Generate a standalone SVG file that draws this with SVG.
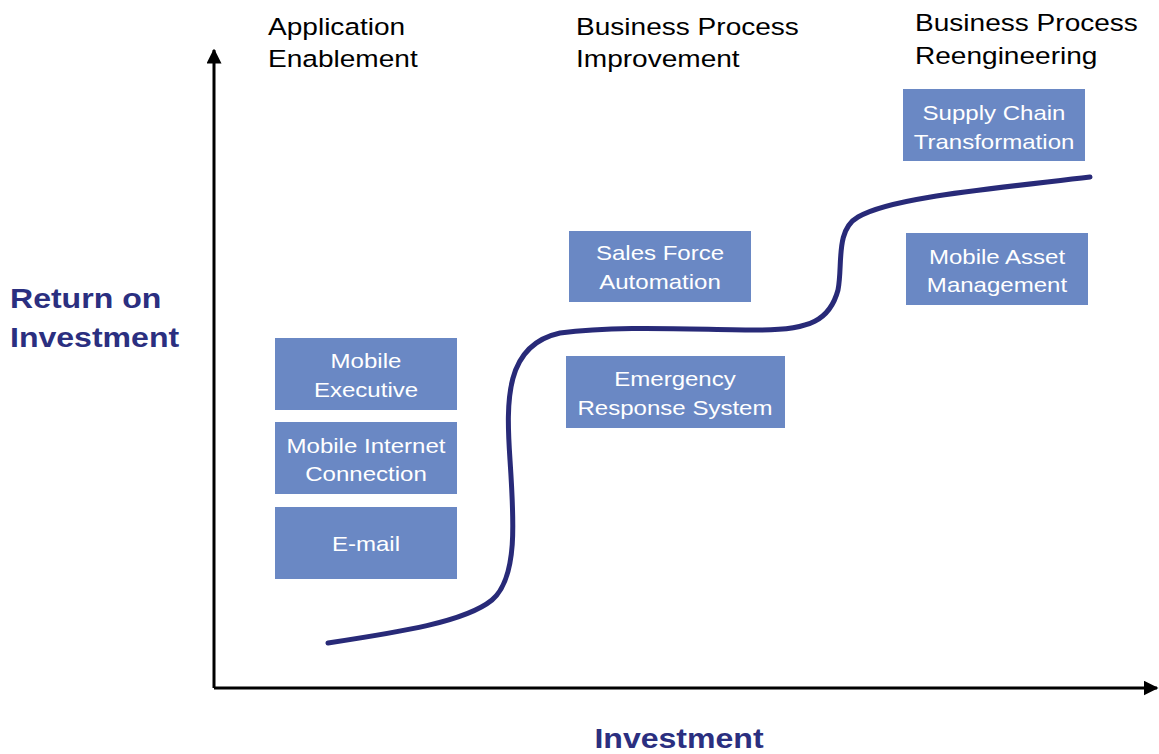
<svg xmlns="http://www.w3.org/2000/svg" width="1159" height="754" viewBox="0 0 1159 754">
  <defs>
    <marker id="arrow" viewBox="0 0 10 10" refX="9" refY="5" markerWidth="5" markerHeight="5" orient="auto" markerUnits="strokeWidth">
      <path d="M0,0 L10,5 L0,10 z" fill="#000"/>
    </marker>
    <style>
      .box { fill: #6a88c4; }
      .boxtext { font-family: "Liberation Sans", Arial, sans-serif; font-size: 21px; fill: #ffffff; text-anchor: middle; }
      .head { font-family: "Liberation Sans", Arial, sans-serif; font-size: 24.5px; fill: #000000; }
      .axislabel { font-family: "Liberation Sans", Arial, sans-serif; font-size: 28px; font-weight: bold; fill: #2b2f80; }
      .axis { stroke: #000; stroke-width: 3; fill: none; }
      .curve { stroke: #282a78; stroke-width: 5; fill: none; stroke-linecap: round; }
    </style>
  </defs>
  <rect width="1159" height="754" fill="#ffffff"/>

  <!-- axes and growth curve; all text uses a 1.145 horizontal stretch -->
  <g id="connectors">
    <line class="axis" x1="214" y1="688" x2="214" y2="50" marker-end="url(#arrow)"/>
    <line class="axis" x1="214" y1="688" x2="1157" y2="688" marker-end="url(#arrow)"/>
    <path class="curve" d="M328,643 C400,632 465,622 492,600 C518,578 514,520 510,460 C506,400 505,345 560,333 C620,325 700,330 760,330 C810,330 830,320 838,290 C843,265 835,230 858,217 C890,198 980,190 1090,177"/>
  </g>

  <!-- axis titles -->
  <text class="axislabel" transform="matrix(1.145 0 0 1 10 308)">Return on</text>
  <text class="axislabel" transform="matrix(1.145 0 0 1 10 347)">Investment</text>
  <text class="axislabel" text-anchor="middle" transform="matrix(1.145 0 0 1 679 748)">Investment</text>

  <!-- stage headings -->
  <text class="head" transform="matrix(1.145 0 0 1 268 35)">Application</text>
  <text class="head" transform="matrix(1.145 0 0 1 268 67)">Enablement</text>
  <text class="head" transform="matrix(1.145 0 0 1 576 35)">Business Process</text>
  <text class="head" transform="matrix(1.145 0 0 1 576 67)">Improvement</text>
  <text class="head" transform="matrix(1.145 0 0 1 915 31)">Business Process</text>
  <text class="head" transform="matrix(1.145 0 0 1 915 64)">Reengineering</text>

  <!-- initiatives -->
  <g id="mobile-executive">
    <rect class="box" x="275" y="338" width="182" height="72"/>
    <text class="boxtext" transform="matrix(1.145 0 0 1 366 368)">Mobile</text>
    <text class="boxtext" transform="matrix(1.145 0 0 1 366 397)">Executive</text>
  </g>
  <g id="mobile-internet">
    <rect class="box" x="275" y="422" width="182" height="72"/>
    <text class="boxtext" transform="matrix(1.145 0 0 1 366 453)">Mobile Internet</text>
    <text class="boxtext" transform="matrix(1.145 0 0 1 366 481)">Connection</text>
  </g>
  <g id="email">
    <rect class="box" x="275" y="507" width="182" height="72"/>
    <text class="boxtext" transform="matrix(1.145 0 0 1 366 551)">E-mail</text>
  </g>
  <g id="sales-force">
    <rect class="box" x="569" y="231" width="182" height="71"/>
    <text class="boxtext" transform="matrix(1.145 0 0 1 660 260)">Sales Force</text>
    <text class="boxtext" transform="matrix(1.145 0 0 1 660 289)">Automation</text>
  </g>
  <g id="emergency">
    <rect class="box" x="566" y="356" width="219" height="72"/>
    <text class="boxtext" transform="matrix(1.145 0 0 1 675 386)">Emergency</text>
    <text class="boxtext" transform="matrix(1.145 0 0 1 675 415)">Response System</text>
  </g>
  <g id="supply-chain">
    <rect class="box" x="903" y="89" width="182" height="72"/>
    <text class="boxtext" transform="matrix(1.145 0 0 1 994 120)">Supply Chain</text>
    <text class="boxtext" transform="matrix(1.145 0 0 1 994 149)">Transformation</text>
  </g>
  <g id="mobile-asset">
    <rect class="box" x="906" y="233" width="182" height="72"/>
    <text class="boxtext" transform="matrix(1.145 0 0 1 997 264)">Mobile Asset</text>
    <text class="boxtext" transform="matrix(1.145 0 0 1 997 292)">Management</text>
  </g>
</svg>
